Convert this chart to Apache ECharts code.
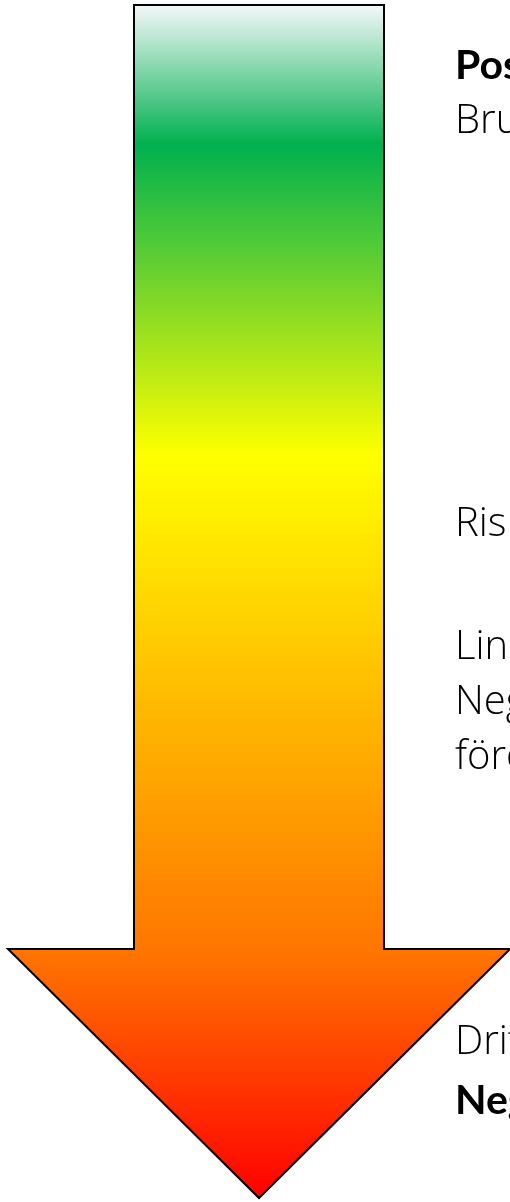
<!DOCTYPE html>
<html>
<head>
<meta charset="utf-8">
<script src="https://cdn.jsdelivr.net/npm/echarts@6/dist/echarts.min.js"></script>
<style>
html,body{margin:0;padding:0;background:#fff;}
#c{width:510px;height:1202px;}
</style>
</head>
<body>
<div id="c"></div>
<script>
// Text labels shown to the right of the arrow (clipped by the page edge)
const topLabels = ["Positiv", "Brutto"];
const midLabelsA = ["Risk"];
const midLabelsB = ["Linear", "Negativ", "fördel"];
const bottomLabels = ["Drift", "Negativ"];
const boldFlags = { top: [true, false], bottom: [false, true] };

const chart = echarts.init(document.getElementById('c'), null, { renderer: 'canvas' });

const arrowTop = 5, shaftBottom = 949, tip = 1198;
const shaftL = 134, shaftR = 384, headL = 8, headR = 510, cx = 259;
const H = tip - arrowTop;
const f = y => (y - arrowTop) / H;

const grad = new echarts.graphic.LinearGradient(0, 0, 0, 1, [
  { offset: 0, color: '#f6f8fb' },
  { offset: f(145), color: '#00b050' },
  { offset: f(455), color: '#ffff00' },
  { offset: f(950), color: '#ff7600' },
  { offset: 1, color: '#ff0000' }
]);

const textEls = [];
const FS = 40;
const X = 455;
const SHIFT = -32;
function addLines(lines, baselines, bolds) {
  lines.forEach((t, i) => {
    const bold = bolds && bolds[i];
    textEls.push({
      type: 'text', x: X, y: baselines[i] + SHIFT,
      style: {
        text: t, fill: '#000',
        fontFamily: bold ? 'Lato, sans-serif' : '"Open Sans", sans-serif',
        fontSize: bold ? 41 : FS, fontWeight: bold ? 700 : 300
      }
    });
  });
}
addLines(topLabels, [77, 134], boldFlags.top);
addLines(midLabelsA, [537], null);
addLines(midLabelsB, [660, 715, 770], null);
addLines(bottomLabels, [1055, 1112], boldFlags.bottom);

chart.setOption({
  backgroundColor: '#ffffff',
  animation: false,
  graphic: [
    {
      type: 'polygon',
      shape: {
        points: [
          [shaftL, arrowTop], [shaftR, arrowTop], [shaftR, shaftBottom],
          [headR, shaftBottom], [cx, tip], [headL, shaftBottom],
          [shaftL, shaftBottom]
        ]
      },
      style: { fill: grad, stroke: '#000', lineWidth: 2, lineJoin: 'miter' }
    }
  ].concat(textEls)
});
</script>
</body>
</html>
